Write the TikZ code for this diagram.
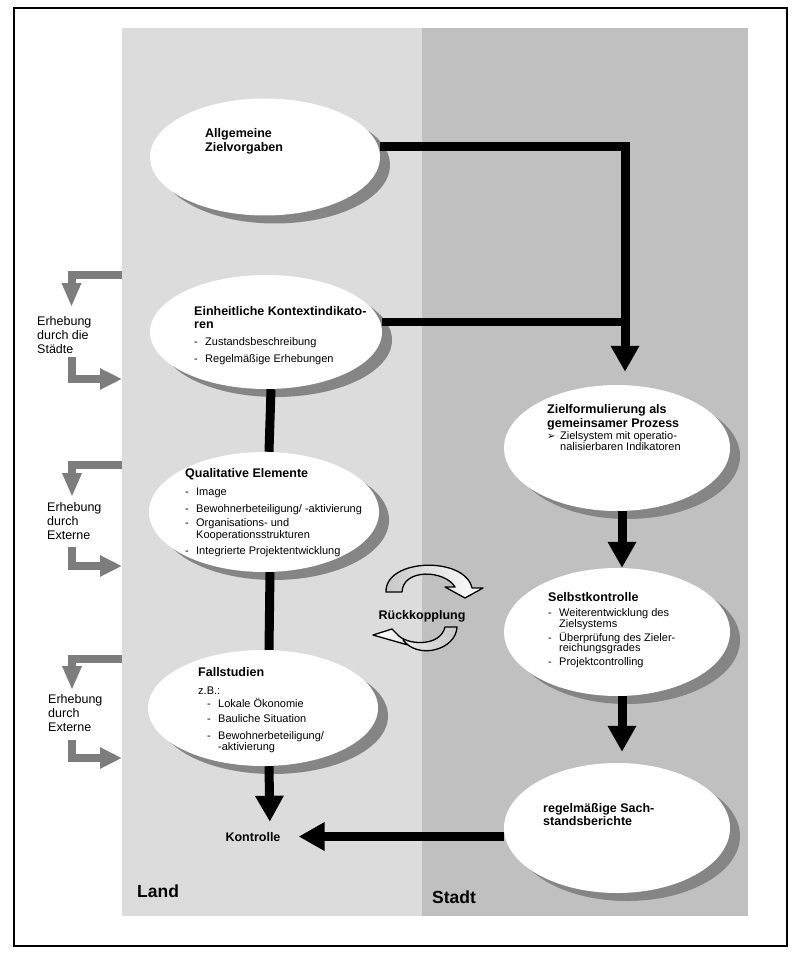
\documentclass[tikz,border=0pt]{standalone}
\usepackage{fontspec}
\setmainfont{Liberation Sans}
\newfontfamily\symfont{DejaVu Sans}
\usetikzlibrary{shapes.geometric,shadows,arrows.meta,positioning}

\definecolor{landgrau}{HTML}{DCDCDC}
\definecolor{stadtgrau}{HTML}{C0C0C0}
\definecolor{schatten}{HTML}{858585}
\definecolor{pfeilgrau}{HTML}{7D7D7D}

\newcommand{\textschrift}{\fontsize{11}{12}\selectfont\lineskiplimit=-20pt\relax}
\newcommand{\titel}[1]{{\bfseries\fontsize{12.5}{14}\selectfont #1}}
\newcommand{\punkt}{\makebox[11pt][l]{-}}
\newcommand{\weiter}{\hspace*{11pt}}
\newcommand{\spitze}{\makebox[13pt][l]{\symfont\fontsize{10}{10}\selectfont ➢}}

\tikzset{
  bubble/.style={ellipse, fill=white, inner sep=0pt, minimum width=230pt, minimum height=117pt,
    drop shadow={shadow xshift=10pt, shadow yshift=-8pt, fill=schatten, opacity=1}},
  inhalt/.style={anchor=north west, align=left, inner sep=0pt, font=\textschrift},
  seite/.style={anchor=north west, align=left, inner sep=0pt,
    font={\fontsize{12.5}{14}\selectfont\lineskiplimit=-20pt\relax}},
  fett/.style={inner sep=0pt, font=\bfseries\fontsize{12.5}{14}\selectfont},
  flow/.style={line width=9pt, -{Triangle[length=26pt,width=27pt]}},
  link/.style={line width=8pt},
  erhebung/.style={line width=8pt, pfeilgrau, -{Triangle[length=24pt,width=18pt]}},
  zurueck/.style={line width=8pt, pfeilgrau, -{Triangle[length=22pt,width=20pt]}},
  kreis/.style={draw=black, line width=1.3pt, line join=round}
}

\begin{document}
\begin{tikzpicture}[x=1pt,y=-1pt]
  \useasboundingbox (0,0) rectangle (800,957);
  \fill[landgrau] (122,28) rectangle (422,916);
  \fill[stadtgrau] (422,28) rectangle (748,916);
  \draw[line width=1.5pt] (14,8) rectangle (787,946);

  \node[bubble] (zv) at (265,157) {};
  \node[bubble, minimum width=232pt, minimum height=114pt] (ki) at (266,332) {};
  \node[bubble, minimum height=120pt] (qe) at (264,512) {};
  \node[bubble, minimum height=116pt] (fs) at (263,708) {};
  \node[bubble, minimum width=226pt, minimum height=126pt] (zf) at (617,448) {};
  \node[bubble, minimum width=226pt, minimum height=128pt] (sk) at (617,632) {};
  \node[bubble, minimum width=226pt, minimum height=130pt] (sb) at (617,828) {};

  \node[inhalt] (zvt) at (205,128) {\titel{Allgemeine}\\[2pt]\titel{Zielvorgaben}};
  \node[inhalt] (kit) at (194,306) {\titel{Einheitliche Kontextindikato-}\\[1pt]\titel{ren}\\[5pt]
    \punkt Zustandsbeschreibung\\[5pt]\punkt Regelmäßige Erhebungen};
  \node[inhalt] (qet) at (185,468) {\titel{Qualitative Elemente}\\[6pt]\punkt Image\\[5pt]
    \punkt Bewohnerbeteiligung/ -aktivierung\\[2pt]\punkt Organisations- und\\
    \weiter Kooperationsstrukturen\\[4pt]\punkt Integrierte Projektentwicklung};
  \node[inhalt] (fst) at (198,667) {\titel{Fallstudien}\\[6pt]z.B.:\\[1pt]
    \hspace*{9pt}\punkt Lokale Ökonomie\\[3pt]\hspace*{9pt}\punkt Bauliche Situation\\[5pt]
    \hspace*{9pt}\punkt Bewohnerbeteiligung/\\[-1pt]\hspace*{9pt}\weiter -aktivierung};
  \node[inhalt] (zft) at (547,404) {\titel{Zielformulierung als}\\[2pt]\titel{gemeinsamer Prozess}\\
    \spitze Zielsystem mit operatio-\\[-1pt]\hspace*{13pt}nalisierbaren Indikatoren};
  \node[inhalt] (skt) at (548,592) {\titel{Selbstkontrolle}\\[3pt]\punkt Weiterentwicklung des\\[-1pt]
    \weiter Zielsystems\\[2pt]\punkt Überprüfung des Zieler-\\[-2pt]\weiter reichungsgrades\\[2pt]
    \punkt Projektcontrolling};
  \node[inhalt] (sbt) at (543,803) {\titel{regelmäßige Sach-}\\[1pt]\titel{standsberichte}};

  \node[fett, anchor=base] (kt) at (253,841) {Kontrolle};
  \node[fett, anchor=base] (rk) at (422,619) {Rückkopplung};
  \node[anchor=base west, inner sep=0pt, font=\bfseries\fontsize{17.5}{20}\selectfont] (land) at (137,897) {Land};
  \node[anchor=base west, inner sep=0pt, font=\bfseries\fontsize{17.5}{20}\selectfont] (stadt) at (432,903) {Stadt};

  \node[seite] (st) at (37,316) {Erhebung\\durch die\\Städte};
  \node[seite] (ex1) at (47,502) {Erhebung\\durch\\Externe};
  \node[seite] (ex2) at (48,694) {Erhebung\\durch\\Externe};

  \coordinate (zfin) at ([xshift=8pt,yshift=13pt]zf.north);
  \draw[flow] ([yshift=10pt]zv.east) -| (zfin);
  \draw[link] ([yshift=10pt]ki.east) -- ([yshift=10pt]ki.east -| zfin);
  \draw[link, line width=9pt] ([xshift=5pt]ki.south) -- ([xshift=5pt]qe.north);
  \draw[link, line width=9pt] ([xshift=6pt]qe.south) -- ([xshift=6pt]fs.north);
  \draw[flow, shorten >=10pt] ([xshift=6pt]fs.south) -- ([xshift=17pt]kt.north);
  \draw[flow] ([xshift=5pt]zf.south) -- ([xshift=5pt]sk.north);
  \draw[flow, shorten >=11pt] ([xshift=5pt]sk.south) -- ([xshift=5pt]sb.north);
  \draw[flow, shorten >=18pt] (sb.west |- kt.east) -- (kt.east);

  \coordinate (o1) at (122,275);
  \coordinate (o1e) at (71.5,307);
  \coordinate (u1) at (71.5,357);
  \coordinate (u1e) at (122,379);
  \coordinate (o2) at (122,465);
  \coordinate (o2e) at (72,497);
  \coordinate (u2) at (72,547);
  \coordinate (u2e) at (122,566);
  \coordinate (o3) at (122,659);
  \coordinate (o3e) at (72,690);
  \coordinate (u3) at (72,740);
  \coordinate (u3e) at (122,758);
  \draw[erhebung] (o1) -| (o1e);
  \draw[zurueck] (u1) |- (u1e);
  \draw[erhebung] (o2) -| (o2e);
  \draw[zurueck] (u2) |- (u2e);
  \draw[erhebung] (o3) -| (o3e);
  \draw[zurueck] (u3) |- (u3e);

  \draw[kreis, left color=black!22, right color=white]
    (386,592) .. controls (385,558) and (465,556) .. (472,588) -- (483,588) -- (465,598)
    -- (445,587) -- (455,587) .. controls (445,570) and (403,568) .. (402,592) -- cycle;
  \draw[kreis, left color=white, right color=black!22]
    (457,627) .. controls (456,650) and (418,660) .. (403,640) -- (408,645) -- (373,635)
    -- (392,629) -- (397,634) .. controls (405,645) and (440,648) .. (445,627) -- cycle;
\end{tikzpicture}
\end{document}
